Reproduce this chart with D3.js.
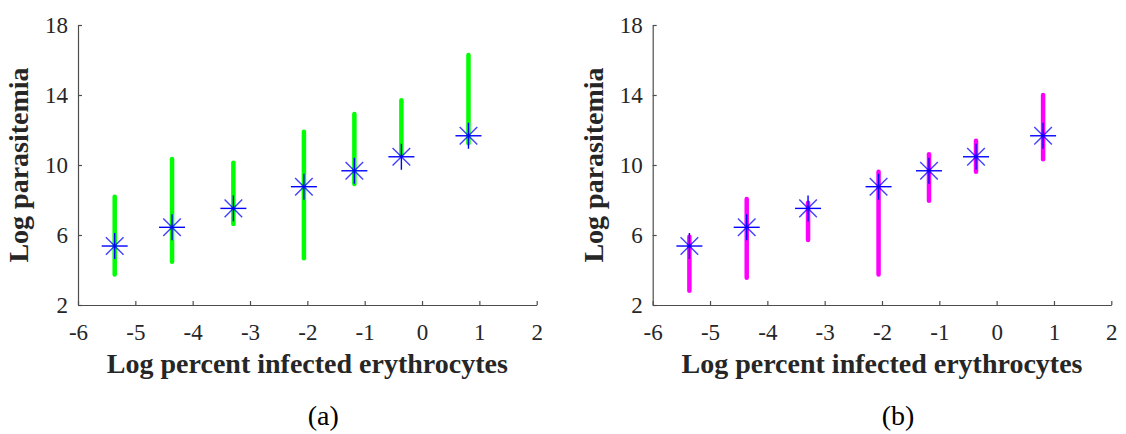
<!DOCTYPE html>
<html>
<head>
<meta charset="utf-8">
<script src="https://cdn.jsdelivr.net/npm/d3@7"></script>
<style>
  html, body { margin: 0; padding: 0; background: #fff; }
  svg { display: block; }
  .tick text { font-family: 'Liberation Serif', 'Times New Roman', serif; font-size: 23px; fill: #262626; }
</style>
</head>
<body>
<div id="chart"></div>
<script>
// ---- data ----
const xVals = [-5.36, -4.36, -3.29, -2.06, -1.18, -0.36, 0.81];
const yVals = [5.37, 6.44, 7.52, 8.76, 9.67, 10.47, 11.67];
const lowA  = [3.75, 4.47, 6.63, 4.67, 8.91, 10.6, 11.24];
const highA = [8.19, 10.34, 10.13, 11.9, 12.91, 13.7, 16.29];
const lowB  = [2.82, 3.56, 5.71, 3.75, 7.96, 9.62, 10.33];
const highB = [5.9, 8.06, 7.85, 9.62, 10.61, 11.39, 14.0];
const xTicks = [-6, -5, -4, -3, -2, -1, 0, 1, 2];
const yTicks = [2, 6, 10, 14, 18];
const panelLabels = ["(a)", "(b)"];
const xTitle = "Log percent infected erythrocytes";
const yTitle = "Log parasitemia";

const W = 1126, H = 434;
const svg = d3.select("#chart").append("svg").attr("width", W).attr("height", H);

const panels = [
  { left: 78, right: 536.7, low: lowA, high: highA, color: "#00ff00", label: panelLabels[0] },
  { left: 652.7, right: 1111.3, low: lowB, high: highB, color: "#ff00ff", label: panelLabels[1] }
];
const plotTop = 25, plotBottom = 305;
const font = "'Liberation Serif', 'Times New Roman', serif";
const axisColor = "#4d4d4d";
const textColor = "#262626";

panels.forEach(p => {
  const x = d3.scaleLinear().domain([-6, 2]).range([p.left, p.right]);
  const y = d3.scaleLinear().domain([2, 18]).range([plotBottom, plotTop]);
  const g = svg.append("g");

  // x axis (ticks inward)
  const xa = g.append("g").attr("transform", `translate(0,${plotBottom})`)
    .call(d3.axisBottom(x).tickValues(xTicks).tickSizeInner(-4).tickSizeOuter(0).tickPadding(19)
      .tickFormat(d => d < 0 ? "-" + Math.abs(d) : String(d)));
  xa.attr("font-family", font).attr("font-size", 23);
  xa.select(".domain").attr("stroke", axisColor).attr("stroke-width", 1.2);
  xa.selectAll(".tick line").attr("stroke", axisColor).attr("stroke-width", 1.2);

  // y axis (ticks inward)
  const ya = g.append("g").attr("transform", `translate(${p.left},0)`)
    .call(d3.axisLeft(y).tickValues(yTicks).tickSizeInner(-4).tickSizeOuter(0).tickPadding(10));
  ya.attr("font-family", font).attr("font-size", 23);
  ya.select(".domain").attr("stroke", axisColor).attr("stroke-width", 1.2);
  ya.selectAll(".tick line").attr("stroke", axisColor).attr("stroke-width", 1.2);

  // error bars
  g.append("g").selectAll("line").data(xVals).join("line")
    .attr("x1", (d) => x(d)).attr("x2", (d) => x(d))
    .attr("y1", (d, i) => y(p.low[i])).attr("y2", (d, i) => y(p.high[i]))
    .attr("stroke", p.color).attr("stroke-width", 4.5).attr("stroke-linecap", "round");

  // asterisk markers
  const r = 13, rd = 8.8;
  const star = g.append("g").selectAll("g").data(xVals).join("g")
    .attr("transform", (d, i) => `translate(${x(d)},${y(yVals[i])})`)
    .attr("stroke", "#0000ff").attr("stroke-width", 1.4);
  star.append("line").attr("x1", -r).attr("x2", r).attr("y1", 0).attr("y2", 0);
  star.append("line").attr("x1", 0).attr("x2", 0).attr("y1", -r).attr("y2", r);
  star.append("line").attr("x1", -rd).attr("x2", rd).attr("y1", -rd).attr("y2", rd).attr("stroke-opacity", 0.75);
  star.append("line").attr("x1", -rd).attr("x2", rd).attr("y1", rd).attr("y2", -rd).attr("stroke-opacity", 0.75);

  // x title
  g.append("text").attr("x", (p.left + p.right) / 2).attr("y", 373)
    .attr("text-anchor", "middle").style("font-family", font).style("font-weight", "bold")
    .style("font-size", "28px").attr("fill", textColor).text(xTitle);

  // y title
  g.append("text").attr("transform", `translate(${p.left - 50},${(plotTop + plotBottom) / 2}) rotate(-90)`)
    .attr("text-anchor", "middle").style("font-family", font).style("font-weight", "bold")
    .style("font-size", "28px").attr("fill", textColor).text(yTitle);

  // panel label
  g.append("text").attr("x", (p.left + p.right) / 2 + 16).attr("y", 425)
    .attr("text-anchor", "middle").style("font-family", font)
    .style("font-size", "28px").attr("fill", "#000").text(p.label);
});
</script>
</body>
</html>
